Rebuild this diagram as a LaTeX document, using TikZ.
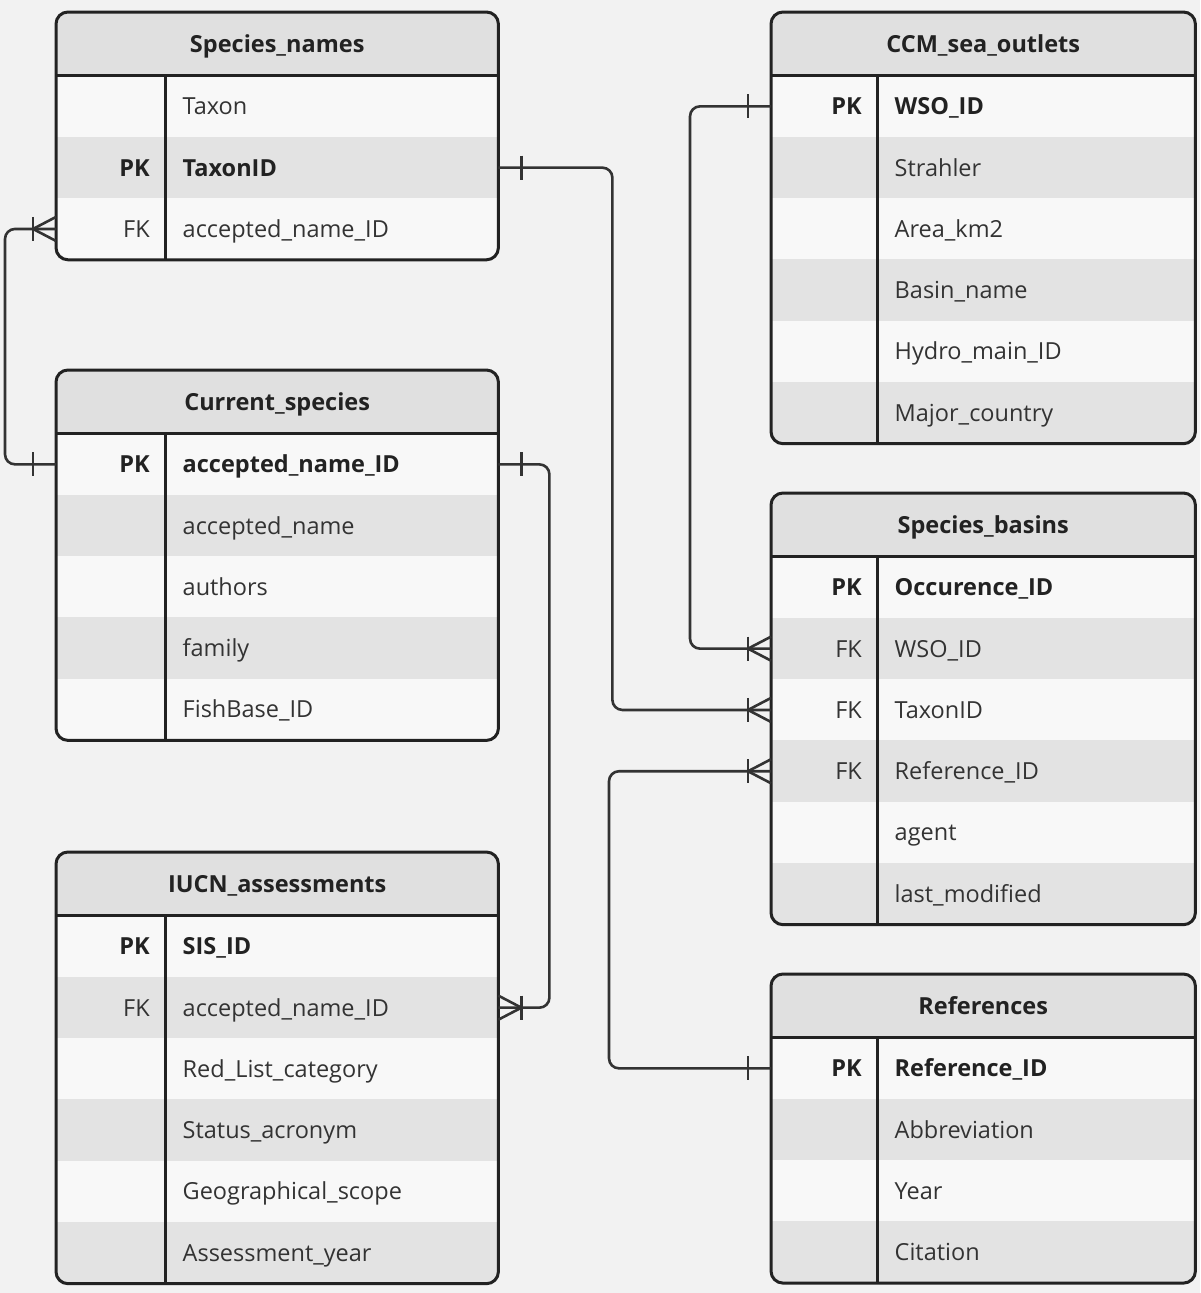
\documentclass[tikz,border=0pt]{standalone}
\usepackage{fontspec}
\setmainfont{Open Sans}
\pgfdeclarelayer{background}
\pgfsetlayers{background,main}

\definecolor{pageGray}{HTML}{F2F2F2}
\definecolor{headGray}{HTML}{E0E0E0}
\definecolor{rowLight}{HTML}{F8F8F8}
\definecolor{rowDark}{HTML}{E3E3E3}
\definecolor{lineDark}{HTML}{222222}
\definecolor{textDark}{HTML}{333333}

\begin{document}
\begin{tikzpicture}[
  x=1pt, y=-1pt,
  frame/.style={draw=lineDark, line width=3pt},
  link/.style={draw=textDark, line width=2.6pt, rounded corners=10pt},
  head/.style={rectangle, anchor=north west, inner sep=0pt, minimum height=\HeadH,
    text height=16.8pt, text depth=0pt, font=\CellFont\bfseries, text=lineDark},
  row/.style={rectangle, anchor=north west, inner sep=0pt, minimum height=\RowH},
  cell/.style={inner sep=0pt, text height=16.8pt, text depth=0pt, font=\CellFont, text=textDark},
  std/.style={},
  fk/.style={},
  pk/.style={font=\CellFont\bfseries, text=lineDark},
  row fill 1/.style={fill=rowLight},
  row fill 0/.style={fill=rowDark},
]
  \newcommand*{\CellFont}{\fontsize{23.5}{28}\selectfont}
  \newcommand*{\HeadH}{63.5}
  \newcommand*{\RowH}{61.3}
  \newcommand*{\Rad}{12pt}

  \useasboundingbox (0,0) rectangle (1200,1293);
  \begin{pgfonlayer}{background}
    \fill[pageGray] (0,0) rectangle (1200,1293);
  \end{pgfonlayer}

  % One table: #1 name, #2 left, #3 top, #4 width, #5 key column width,
  % #6 title, #7 rows as style/key/field; row nodes: #1-1, #1-2, ...
  \newcommand*{\ErTable}[7]{
    \node[head, minimum width=#4] (#1) at (#2,#3) {#6};
    \foreach \s/\k/\f [count=\i] in {#7} {
      \node[row, minimum width=#4] (#1-\i) at (#2,{#3+\HeadH+(\i-1)*\RowH}) {};
      \node[cell, \s, anchor=east] (#1-k\i) at ([xshift={#5-15}]#1-\i.west) {\k};
      \node[cell, \s, anchor=west] (#1-f\i) at ([xshift={#5+17.5}]#1-\i.west) {\f};
      \xdef\ErLast{\i}
    }
    % fills, clipped to the rounded frame
    \begin{pgfonlayer}{background}
      \begin{scope}
        \clip[rounded corners=\Rad] (#1.north west) rectangle (#1-\ErLast.south east);
        \fill[headGray] (#1.north west) rectangle (#1.south east);
        \foreach \i [evaluate=\i as \RowPar using {int(mod(\i,2))}] in {1,...,\ErLast}
          \fill[row fill \RowPar] (#1-\i.north west) rectangle (#1-\i.south east);
      \end{scope}
    \end{pgfonlayer}
    \draw[frame, rounded corners=\Rad] (#1.north west) rectangle (#1-\ErLast.south east);
    \draw[frame] (#1.south west) -- (#1.south east);
    \draw[frame] ([xshift=#5]#1.south west) -- ([xshift=#5]#1-\ErLast.south west);
  }

  % Ends of the links: #1 anchor, #2 side (1 right, -1 left)
  \newcommand*{\OneEnd}[2]{
    \draw[link] ([xshift={#2*23}]#1) ++(0,-12) -- ++(0,24);
  }
  \newcommand*{\ManyEnd}[2]{
    \OneEnd{#1}{#2}
    \draw[link] ([xshift={#2*23}]#1) -- ([yshift=12]#1)
                ([xshift={#2*23}]#1) -- ([yshift=-12]#1);
  }

  % Tables
  \ErTable{sn}{56}{12}{442}{109}{Species\_names}
    {std//Taxon, pk/PK/TaxonID, fk/FK/accepted\_name\_ID}
  \ErTable{cs}{56}{370}{442}{109}{Current\_species}
    {pk/PK/accepted\_name\_ID, std//accepted\_name, std//authors, std//family,
     std//FishBase\_ID}
  \ErTable{iu}{56}{852}{442}{109}{IUCN\_assessments}
    {pk/PK/SIS\_ID, fk/FK/accepted\_name\_ID, std//Red\_List\_category,
     std//Status\_acronym, std//Geographical\_scope, std//Assessment\_year}
  \ErTable{co}{771}{12}{424}{106}{CCM\_sea\_outlets}
    {pk/PK/WSO\_ID, std//Strahler, std//Area\_km2, std//Basin\_name,
     std//Hydro\_main\_ID, std//Major\_country}
  \ErTable{sb}{771}{493}{424}{106}{Species\_basins}
    {pk/PK/Occurence\_ID, fk/FK/WSO\_ID, fk/FK/TaxonID, fk/FK/Reference\_ID,
     std//agent, std//last\_modified}
  \ErTable{rf}{771}{974}{424}{106}{References}
    {pk/PK/Reference\_ID, std//Abbreviation, std//Year, std//Citation}

  % Links
  \draw[link] (sn-2.east) -- ++(114,0) |- (sb-3.west);
  \OneEnd{sn-2.east}{1}
  \ManyEnd{sb-3.west}{-1}

  \draw[link] (sn-3.west) -- ++(-51,0) |- (cs-1.west);
  \ManyEnd{sn-3.west}{-1}
  \OneEnd{cs-1.west}{-1}

  \draw[link] (cs-1.east) -- ++(51,0) |- (iu-2.east);
  \OneEnd{cs-1.east}{1}
  \ManyEnd{iu-2.east}{1}

  \draw[link] (co-1.west) -- ++(-81,0) |- (sb-2.west);
  \OneEnd{co-1.west}{-1}
  \ManyEnd{sb-2.west}{-1}

  \draw[link] (rf-1.west) -- ++(-162,0) |- (sb-4.west);
  \OneEnd{rf-1.west}{-1}
  \ManyEnd{sb-4.west}{-1}
\end{tikzpicture}
\end{document}
